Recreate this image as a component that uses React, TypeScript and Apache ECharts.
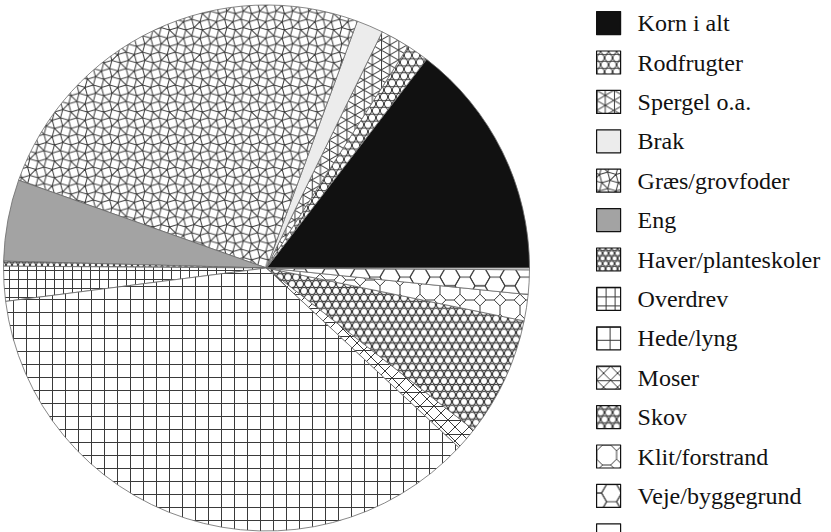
import React, { useEffect, useRef } from 'react';
import * as echarts from 'echarts';

const categories = [
  'Korn i alt', 'Rodfrugter', 'Spergel o.a.', 'Brak', 'Græs/grovfoder', 'Eng',
  'Haver/planteskoler', 'Overdrev', 'Hede/lyng', 'Moser', 'Skov',
  'Klit/forstrand', 'Veje/byggegrund', 'Andet',
];
const shares = [52.5, 4.9, 6.5, 5.9, 90.7, 18.0, 1.1, 7.7, 129.7, 5.0, 26.4, 5.8, 5.4, 0.4];

const STROKE = '#3a3a3a';

function tile(w: number, h: number, body: string, bg = '#ffffff', sw = 1) {
  const svg = `<svg xmlns="http://www.w3.org/2000/svg" width="${w}" height="${h}" viewBox="0 0 ${w} ${h}"><rect width="${w}" height="${h}" fill="${bg}"/><g fill="none" stroke="${STROKE}" stroke-width="${sw}">${body}</g></svg>`;
  return {
    image: 'data:image/svg+xml;charset=utf-8,' + encodeURIComponent(svg),
    repeat: 'repeat',
    imageWidth: w,
    imageHeight: h,
  } as any;
}

function circlesTile(dx: number, r: number, sw = 1) {
  const dy = dx * Math.sqrt(3);
  const pts = [[0, 0], [dx, 0], [0, dy], [dx, dy], [dx / 2, dy / 2]];
  return tile(dx, +dy.toFixed(3), pts.map(([x, y]) => `<circle cx="${x}" cy="${y.toFixed(3)}" r="${r}"/>`).join(''), '#ffffff', sw);
}

function gridTile(s: number) {
  return tile(s, s, `<path d="M0.5 0V${s}M0 0.5H${s}"/>`);
}

function triTile(s: number) {
  const h = (s * Math.sqrt(3)) / 2;
  const w = +(2 * h).toFixed(3);
  return tile(w, s, `<path d="M0.5 0V${s}M${h} 0V${s}M0 0L${w} ${s}M0 ${s}L${w} 0"/>`);
}

function snubTile(e: number) {
  const a = e * (1 + Math.sqrt(3)) / Math.SQRT2;
  const r = e / Math.SQRT2;
  const verts: number[][] = [];
  const add = (x: number, y: number) => {
    if (!verts.some(([vx, vy]) => Math.abs(vx - x) < 0.01 && Math.abs(vy - y) < 0.01)) verts.push([x, y]);
  };
  for (let i = -1; i <= 2; i++) {
    for (let j = -1; j <= 2; j++) {
      for (let k = 0; k < 4; k++) {
        const t1 = ((60 + 90 * k) * Math.PI) / 180;
        add(i * a + r * Math.cos(t1), j * a + r * Math.sin(t1));
        const t2 = ((30 + 90 * k) * Math.PI) / 180;
        add((i + 0.5) * a + r * Math.cos(t2), (j + 0.5) * a + r * Math.sin(t2));
      }
    }
  }
  let d = '';
  for (let p = 0; p < verts.length; p++) {
    for (let q = p + 1; q < verts.length; q++) {
      const dist = Math.hypot(verts[p][0] - verts[q][0], verts[p][1] - verts[q][1]);
      if (Math.abs(dist - e) < 0.05 * e) {
        d += `M${verts[p][0].toFixed(2)} ${verts[p][1].toFixed(2)}L${verts[q][0].toFixed(2)} ${verts[q][1].toFixed(2)}`;
      }
    }
  }
  const A = +a.toFixed(3);
  return tile(A, A, `<path d="${d}"/>`, '#ffffff', 1);
}

function octTile(p: number) {
  const s = p / (1 + Math.SQRT2);
  const c = p / 2;
  const pts = [
    [c - s / 2, 0], [c + s / 2, 0], [p, c - s / 2], [p, c + s / 2],
    [c + s / 2, p], [c - s / 2, p], [0, c + s / 2], [0, c - s / 2],
  ];
  return tile(p, p, `<polygon points="${pts.map(([x, y]) => `${x.toFixed(2)},${y.toFixed(2)}`).join(' ')}"/>`);
}

function hexTile(R: number) {
  const h = R * Math.sqrt(3);
  const w = 3 * R;
  const centers = [[0, 0], [w, 0], [w / 2, h / 2], [0, h], [w, h]];
  const polys = centers.map(([cx, cy]) => {
    const pts = [];
    for (let k = 0; k < 6; k++) {
      const t = (k * 60 * Math.PI) / 180;
      pts.push(`${(cx + R * Math.cos(t)).toFixed(2)},${(cy + R * Math.sin(t)).toFixed(2)}`);
    }
    return `<polygon points="${pts.join(' ')}"/>`;
  });
  return tile(w, +h.toFixed(3), polys.join(''));
}

function xTile(s: number) {
  return tile(s, s, `<path d="M0 0L${s} ${s}M${s} 0L0 ${s}M0 0.5H${s}"/>`);
}

const fills: any[] = [
  '#111111',
  circlesTile(8, 3.6),
  triTile(10),
  '#ececec',
  snubTile(8.5),
  '#a3a3a3',
  circlesTile(6, 2.6),
  gridTile(9),
  gridTile(13),
  xTile(14),
  circlesTile(8, 3.5, 1.15),
  octTile(20),
  hexTile(10),
  '#ffffff',
];

export default function App() {
  const ref = useRef<HTMLDivElement>(null);
  useEffect(() => {
    if (!ref.current) return;
    const chart = echarts.init(ref.current, undefined, { renderer: 'svg' });
    chart.setOption({
      animation: false,
      backgroundColor: '#ffffff',
      legend: {
        orient: 'vertical',
        left: 596,
        top: 11,
        height: 620,
        padding: 0,
        itemWidth: 24,
        itemHeight: 23,
        itemGap: 15.2,
        selectedMode: false,
        icon: 'rect',
        data: categories,
        itemStyle: { borderColor: '#111111', borderWidth: 1.2 },
        formatter: (name: string) => (name === 'Andet' ? '' : name),
        textStyle: {
          fontFamily: 'Liberation Serif',
          fontSize: 24,
          lineHeight: 23,
          color: '#111111',
          padding: [0, 0, 0, 12],
        },
      },
      series: [
        {
          type: 'pie',
          center: [266.5, 268],
          radius: [0, 263],
          startAngle: 0,
          clockwise: false,
          label: { show: false },
          labelLine: { show: false },
          emphasis: { disabled: true },
          silent: true,
          itemStyle: { borderColor: '#6a6a6a', borderWidth: 0.8 },
          data: categories.map((name, i) => ({
            name,
            value: shares[i],
            itemStyle: { color: fills[i] },
          })),
        },
      ],
    });
    return () => chart.dispose();
  }, []);
  return <div ref={ref} style={{ position: 'fixed', left: 0, top: 0, width: 831, height: 532 }} />;
}
